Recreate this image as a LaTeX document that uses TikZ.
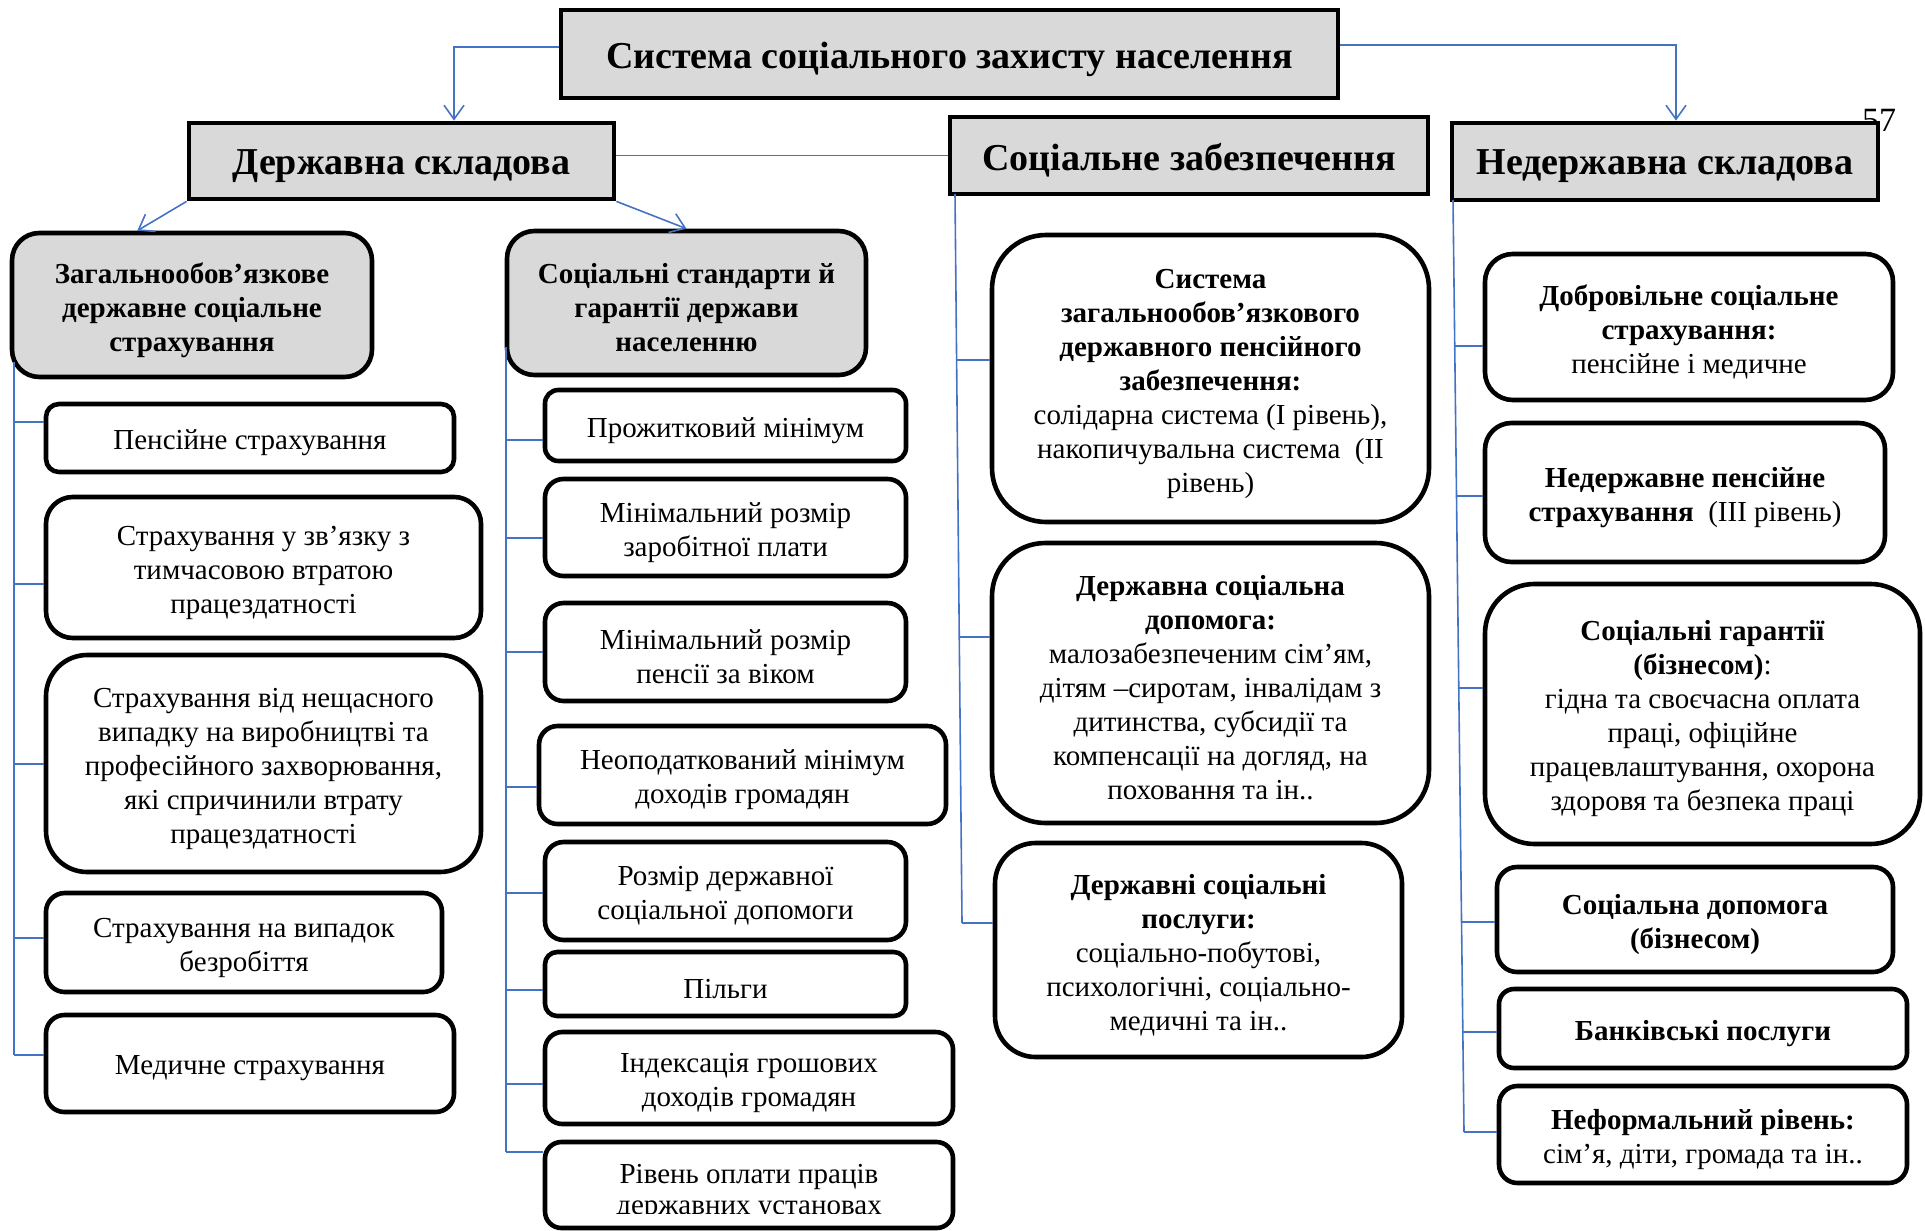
\documentclass[tikz,border=0pt]{standalone}
\usepackage{fontspec}
\setmainfont{Liberation Serif}
\usetikzlibrary{arrows.meta,calc}
\definecolor{linkblue}{HTML}{4472C4}
\definecolor{boxgray}{HTML}{D9D9D9}
\begin{document}
\begin{tikzpicture}[x=0.5pt,y=-0.5pt,
  % box given by its corners (x1,y1) and (x2,y2)
  span/.style n args={4}{at={({(#1+#3)/2},{(#2+#4)/2})},
    minimum width={(#3-#1)*0.5pt}, minimum height={(#4-#2)*0.5pt}},
  hdrbox/.style={draw=black, line width=2.4pt, fill=boxgray, inner sep=0pt},
  grpbox/.style={draw=black, line width=2.3pt, fill=boxgray, inner sep=0pt},
  itembox/.style={draw=black, line width=2.3pt, fill=white, inner sep=0pt},
  % box texts sit a little below the geometric centre
  hdrtext/.style={inner sep=0pt, yshift=-2.5pt, align=center,
    font=\fontsize{19}{22}\selectfont\bfseries},
  grptext/.style={inner sep=0pt, yshift=-2.5pt, align=center,
    font=\fontsize{14.5}{17}\selectfont\bfseries},
  itemtext/.style={inner sep=0pt, yshift=-2.5pt, align=center,
    font=\fontsize{14.5}{17}\selectfont},
  bodytext/.style={inner sep=0pt, font=\fontsize{14.5}{15.5}\selectfont, align=center},
  link/.style={draw=linkblue, line width=0.8pt},
  linkarrow/.style={link, -{Straight Barb[length=7pt,width=10pt,line width=0.8pt]}}]

\useasboundingbox (0,0) rectangle (1925,1230);

% page numbers
\node[font=\fontsize{17}{20}\selectfont] (pgnum) at (1879,121) {57};
\node[font=\fontsize{17}{20}\selectfont] (pgnumtop) at (1900,-11) {57};

% top level
\node[hdrbox, span={561}{10}{1338}{98},
  label={[hdrtext]center:{Система соціального захисту населення}}] (title) {};
\node[hdrbox, span={189}{123}{614}{199},
  label={[hdrtext]center:{Державна складова}}] (ds) {};
\node[hdrbox, span={950}{117}{1428}{194},
  label={[hdrtext]center:{Соціальне забезпечення}}] (sz) {};
\node[hdrbox, span={1452}{123}{1878}{200},
  label={[hdrtext]center:{Недержавна складова}}] (nds) {};

% state component: groups
\node[grpbox, rounded corners=13.7pt, span={12}{233}{372}{377},
  label={[grptext]center:{Загальнообов’язкове\\державне соціальне\\страхування}}] (g1) {};
\node[grpbox, rounded corners=13.7pt, span={507}{231}{866}{375},
  label={[grptext]center:{Соціальні стандарти й\\гарантії держави\\населенню}}] (g2) {};

% compulsory insurance
\node[itembox, rounded corners=6.5pt, span={46}{404}{454}{472},
  label={[itemtext]center:{Пенсійне страхування}}] (l1) {};
\node[itembox, rounded corners=13.4pt, span={46}{497}{481}{638},
  label={[itemtext]center:{Страхування у зв’язку з\\тимчасовою втратою\\працездатності}}] (l2) {};
\node[itembox, rounded corners=20.6pt, span={46}{655}{481}{872},
  label={[itemtext]center:{Страхування від нещасного\\випадку на виробництві та\\професійного захворювання,\\які спричинили втрату\\працездатності}}] (l3) {};
\node[itembox, rounded corners=9.4pt, span={46}{893}{442}{992},
  label={[itemtext]center:{Страхування на випадок\\безробіття}}] (l4) {};
\node[itembox, rounded corners=9.2pt, span={46}{1015}{454}{1112},
  label={[itemtext]center:{Медичне страхування}}] (l5) {};

% social standards
\node[itembox, rounded corners=6.7pt, span={545}{390}{906}{461},
  label={[itemtext]center:{Прожитковий мінімум}}] (m1) {};
\node[itembox, rounded corners=9.2pt, span={545}{479}{906}{576},
  label={[itemtext]center:{Мінімальний розмір\\заробітної плати}}] (m2) {};
\node[itembox, rounded corners=9.3pt, span={545}{603}{906}{701},
  label={[itemtext]center:{Мінімальний розмір\\пенсії за віком}}] (m3) {};
\node[itembox, rounded corners=9.3pt, span={539}{726}{946}{824},
  label={[itemtext]center:{Неоподаткований мінімум\\доходів громадян}}] (m4) {};
\node[itembox, rounded corners=9.3pt, span={545}{842}{906}{940},
  label={[itemtext]center:{Розмір державної\\соціальної допомоги}}] (m5) {};
\node[itembox, rounded corners=6.1pt, span={545}{952}{906}{1016},
  label={[itemtext]center:{Пільги}}] (m6) {};
\node[itembox, rounded corners=8.7pt, span={545}{1032}{953}{1124},
  label={[itemtext]center:{Індексація грошових\\доходів громадян}}] (m7) {};
\node[itembox, rounded corners=8.2pt, span={545}{1142}{953}{1228}] (m8) {};
\begin{scope}
  \clip (545,1142) rectangle (953,1213);
  \node[bodytext] (m8t) at (749,1193) {Рівень оплати праців\\державних установах};
\end{scope}

% social security
\node[itembox, rounded corners=27pt, span={992}{235}{1429}{522},
  label={[itemtext]center:{\textbf{Система}\\\textbf{загальнообов’язкового}\\\textbf{державного пенсійного}\\\textbf{забезпечення:}\\солідарна система (I рівень),\\накопичувальна система\ \ (II\\рівень)}}] (s1) {};
\node[itembox, rounded corners=26.6pt, span={992}{543}{1429}{823},
  label={[itemtext]center:{\textbf{Державна соціальна}\\\textbf{допомога:}\\малозабезпеченим сім’ям,\\дітям –сиротам, інвалідам з\\дитинства, субсидії та\\компенсації на догляд, на\\поховання та ін..}}] (s2) {};
\node[itembox, rounded corners=20.3pt, span={995}{843}{1402}{1057},
  label={[itemtext]center:{\textbf{Державні соціальні}\\\textbf{послуги:}\\соціально-побутові,\\психологічні, соціально-\\медичні та ін..}}] (s3) {};

% non-state component
\node[itembox, rounded corners=13.9pt, span={1485}{254}{1893}{400},
  label={[itemtext]center:{\textbf{Добровільне соціальне}\\\textbf{страхування:}\\пенсійне і медичне}}] (n1) {};
\node[itembox, rounded corners=13.2pt, span={1485}{423}{1885}{562},
  label={[itemtext]center:{\textbf{Недержавне пенсійне}\\\textbf{страхування}\ \ (III рівень)}}] (n2) {};
\node[itembox, rounded corners=24.7pt, span={1485}{584}{1920}{844},
  label={[itemtext]center:{\textbf{Соціальні гарантії}\\\textbf{(бізнесом)}:\\гідна та своєчасна оплата\\праці, офіційне\\працевлаштування, охорона\\здоровя та безпека праці}}] (n3) {};
\node[itembox, rounded corners=10pt, span={1497}{867}{1893}{972},
  label={[itemtext]center:{\textbf{Соціальна допомога}\\\textbf{(бізнесом)}}}] (n4) {};
\node[itembox, rounded corners=7.5pt, span={1499}{989}{1907}{1068},
  label={[itemtext]center:{\textbf{Банківські послуги}}}] (n5) {};
\node[itembox, rounded corners=9.2pt, span={1499}{1086}{1907}{1183},
  label={[itemtext]center:{\textbf{Неформальний рівень:}\\сім’я, діти, громада та ін..}}] (n6) {};

% arrows from the top
\coordinate (tl) at (454,47);
\coordinate (tr) at (1676,45);
\draw[linkarrow] (title.west |- tl) -| (tl |- ds.north);
\draw[linkarrow] (title.east |- tr) -| (tr |- nds.north);
\draw[link] (ds.east |- sz.west) -- (sz.west);
\draw[linkarrow] (ds.south west) -- ($(g1.north west)!0.35!(g1.north east)$);
\draw[linkarrow] (ds.south east) -- (g2.north);

% left trunk
\coordinate (L0) at (14,362);
\coordinate (L1) at (14,422);
\coordinate (L2) at (14,584);
\coordinate (L3) at (14,764);
\coordinate (L4) at (14,938);
\coordinate (L5) at (14,1055);
\draw[link] (L0) -- (L5);
\foreach \i/\b in {1/l1,2/l2,3/l3,4/l4,5/l5}
  \draw[link] (L\i) -- (L\i -| \b.west);

% middle trunk
\coordinate (M0) at (506,347);
\coordinate (M1) at (506,440);
\coordinate (M2) at (506,538);
\coordinate (M3) at (506,652);
\coordinate (M4) at (506,787);
\coordinate (M5) at (506,893);
\coordinate (M6) at (506,990);
\coordinate (M7) at (506,1084);
\coordinate (M8) at (506,1152);
\draw[link] (M0) -- (M8);
\foreach \i/\b in {1/m1,2/m2,3/m3,4/m4,5/m5,6/m6,7/m7,8/m8}
  \draw[link] (M\i) -- (M\i -| \b.west);

% social security trunk
\coordinate (S0) at (955,194);
\coordinate (S1) at (956.6,360);
\coordinate (S2) at (959.3,637);
\coordinate (S3) at (962,923);
\draw[link] (S0) -- (S3);
\foreach \i/\b in {1/s1,2/s2,3/s3}
  \draw[link] (S\i) -- (S\i -| \b.west);

% non-state trunk
\coordinate (N0) at (1453,200);
\coordinate (N1) at (1454.7,346);
\coordinate (N2) at (1456.5,496);
\coordinate (N3) at (1458.8,688);
\coordinate (N4) at (1461.5,922);
\coordinate (N5) at (1462.8,1032);
\coordinate (N6) at (1464,1132);
\draw[link] (N0) -- (N6);
\foreach \i/\b in {1/n1,2/n2,3/n3,4/n4,5/n5,6/n6}
  \draw[link] (N\i) -- (N\i -| \b.west);
\end{tikzpicture}
\end{document}
